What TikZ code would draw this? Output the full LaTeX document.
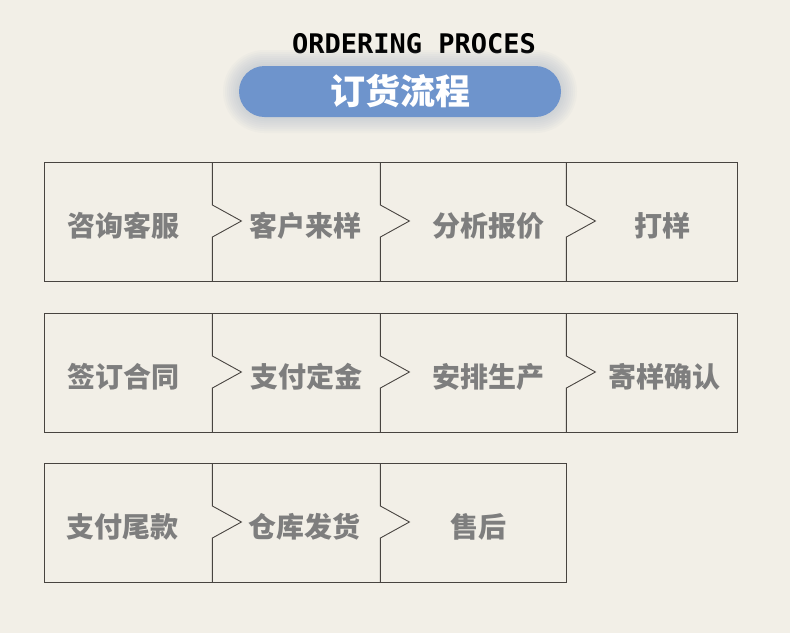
\documentclass[tikz,border=0pt]{standalone}
\usepackage{fontspec}
\newfontfamily\cjkfont{Noto Sans CJK SC}
\newfontfamily\titlefont{DejaVu Sans Mono}
\usetikzlibrary{positioning,calc}
\definecolor{paper}{RGB}{242,239,231}
\definecolor{frameline}{RGB}{72,68,64}
\definecolor{stepgray}{RGB}{126,126,126}
\definecolor{pillblue}{RGB}{110,148,204}
\definecolor{glowblue}{RGB}{160,172,195}

\tikzset{
  cell/.style={minimum width=#1, minimum height=119pt, inner sep=0pt, anchor=north west},
  steptext/.style={font=\cjkfont\bfseries\fontsize{28}{28}\selectfont, text=stepgray, inner sep=0pt},
  frame/.style={draw=frameline, line width=0.9pt},
  pill/.style={fill=pillblue, rounded corners=25.5pt, minimum width=322pt, minimum height=51pt,
    text=white, font=\cjkfont\bfseries\fontsize{35}{35}\selectfont},
}

\begin{document}
\begin{tikzpicture}[x=1pt,y=-1pt]
\fill[paper] (0,0) rectangle (790,633);
\useasboundingbox (0,0) rectangle (790,633);

% heading
\node[font=\titlefont\bfseries\fontsize{27}{27}\selectfont] (title) at (414,44) {ORDERING PROCES};
\foreach \g in {16,14,...,2}
  \fill[glowblue, opacity=0.06, rounded corners=25.5pt+\g pt] (239-\g,66-\g) rectangle (561+\g,117+\g);
\node[pill] (pill) at (400,91.5) {订货流程};

% steps: name / left / top / width / text x / text
\foreach \n/\xa/\y/\w/\tx/\t in {
    c11/44/162/168/123/咨询客服, c12/212/162/168/305/客户来样,
    c13/380/162/186/488/分析报价, c14/566/162/171/662/打样,
    c21/44/313/168/123/签订合同, c22/212/313/168/306/支付定金,
    c23/380/313/186/488/安排生产, c24/566/313/171/664/寄样确认,
    c31/44/463/168/122/支付尾款, c32/212/463/168/304/仓库发货,
    c33/380/463/186/478/售后}{
  \node[cell=\w pt] (\n) at (\xa,\y) {};
  \node[steptext] (t\n) at (\tx,\y+64) {\t};
}

% frames and chevrons
\foreach \a/\b in {c11/c14, c21/c24, c31/c33}
  \draw[frame] (\a.north west) rectangle (\b.south east);
\foreach \a in {c11,c12,c13,c21,c22,c23,c31,c32}
  \draw[frame] (\a.north east) -- ++(0,43) -- ++(29,16) -- ++(-29,16) -- (\a.south east);
\end{tikzpicture}
\end{document}
